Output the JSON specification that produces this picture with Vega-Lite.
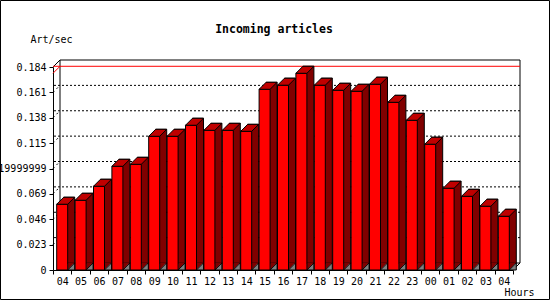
{
  "$schema": "https://vega.github.io/schema/vega-lite/v6.json",
  "width": 460,
  "height": 203,
  "autosize": {"type": "none"},
  "padding": {"left": 53, "top": 67, "right": 37, "bottom": 30},
  "background": "white",
  "config": {"view": {"stroke": null}, "font": "DejaVu Sans Mono"},
  "title": {"text": "Incoming articles", "font": "DejaVu Sans Mono", "fontSize": 11.5, "fontWeight": "bold", "color": "black", "frame": "group", "anchor": "middle", "dx": -9, "dy": 39},
  "resolve": {"axis": {"x": "independent", "y": "independent"}},
  "datasets": {
    "bars": [
      {"h": "04", "v": 0.0596}, {"h": "05", "v": 0.0632}, {"h": "06", "v": 0.0759}, {"h": "07", "v": 0.0940},
      {"h": "08", "v": 0.0958}, {"h": "09", "v": 0.1212}, {"h": "10", "v": 0.1212}, {"h": "11", "v": 0.1312},
      {"h": "12", "v": 0.1266}, {"h": "13", "v": 0.1266}, {"h": "14", "v": 0.1257}, {"h": "15", "v": 0.1638},
      {"h": "16", "v": 0.1675}, {"h": "17", "v": 0.1783}, {"h": "18", "v": 0.1675}, {"h": "19", "v": 0.1629},
      {"h": "20", "v": 0.1620}, {"h": "21", "v": 0.1684}, {"h": "22", "v": 0.1520}, {"h": "23", "v": 0.1357},
      {"h": "00", "v": 0.1140}, {"h": "01", "v": 0.0741}, {"h": "02", "v": 0.0668}, {"h": "03", "v": 0.0578},
      {"h": "04b", "v": 0.0487}
    ],
    "grid": [{"g": 0.023}, {"g": 0.046}, {"g": 0.069}, {"g": 0.092}, {"g": 0.115}, {"g": 0.138}, {"g": 0.161}]
  },
  "layer": [
    {
      "data": {"values": [{}]},
      "mark": {"type": "rect", "fill": null, "stroke": "black", "strokeWidth": 1, "xOffset": -52.5, "x2Offset": 36.5, "yOffset": -66.5, "y2Offset": 29.5},
      "encoding": {"x": {"value": 0}, "x2": {"value": "width"}, "y": {"value": 0}, "y2": {"value": "height"}}
    },
    {
      "data": {"values": [{}]},
      "mark": {"type": "rect", "fill": "white", "stroke": "black", "strokeWidth": 1, "xOffset": 7, "x2Offset": 7, "yOffset": -7, "y2Offset": -7},
      "encoding": {"x": {"value": 0}, "x2": {"value": "width"}, "y": {"datum": 0, "type": "quantitative", "axis": null}, "y2": {"datum": 0.184}}
    },
    {
      "data": {"name": "grid"},
      "mark": {"type": "rule", "color": "black", "strokeWidth": 1, "strokeDash": [2, 2], "xOffset": 7, "x2Offset": 7, "yOffset": -7},
      "encoding": {"y": {"field": "g", "type": "quantitative", "axis": null}}
    },
    {
      "data": {"name": "grid"},
      "mark": {"type": "point", "shape": "M 0 0 L 7 -7", "size": 4, "filled": false, "stroke": "black", "strokeWidth": 1, "strokeDash": [2, 3], "opacity": 1, "xOffset": -9.2},
      "encoding": {"x": {"datum": "04", "axis": null}, "y": {"field": "g", "type": "quantitative", "axis": null}}
    },
    {
      "data": {"values": [{}]},
      "mark": {"type": "point", "shape": "M 0 0 L 7 -7", "size": 4, "filled": false, "stroke": "black", "strokeWidth": 1, "opacity": 1, "xOffset": -9.2},
      "encoding": {"x": {"datum": "04", "axis": null}, "y": {"datum": 0.184, "type": "quantitative", "axis": null}}
    },
    {
      "data": {"values": [{}]},
      "mark": {"type": "point", "shape": "M 0 0 L 7 -7", "size": 4, "filled": false, "stroke": "black", "strokeWidth": 1, "opacity": 1, "xOffset": 9.2},
      "encoding": {"x": {"datum": "04b", "axis": null}, "y": {"datum": 0, "type": "quantitative", "axis": null}}
    },
    {
      "data": {"name": "bars"},
      "mark": {"type": "rule", "color": "#ff0000", "strokeWidth": 1, "xOffset": 7, "x2Offset": 7, "yOffset": -7},
      "encoding": {"y": {"aggregate": "max", "field": "v", "type": "quantitative", "axis": null}}
    },
    {
      "data": {"name": "bars"},
      "mark": {"type": "point", "shape": "M 0 0 L 7 -7", "size": 4, "filled": false, "stroke": "#ff0000", "strokeWidth": 1, "opacity": 1, "xOffset": -9.2},
      "encoding": {"x": {"datum": "04", "axis": null}, "y": {"aggregate": "max", "field": "v", "type": "quantitative", "axis": null}}
    },
    {
      "data": {"name": "bars"},
      "mark": {"type": "bar", "width": 11, "fill": "#800000", "stroke": "black", "strokeWidth": 1, "xOffset": 7, "yOffset": -7, "y2Offset": -7},
      "encoding": {
        "x": {"field": "h", "type": "nominal", "sort": null, "axis": null},
        "y": {"field": "v", "type": "quantitative", "axis": null}
      }
    },
    {
      "data": {"name": "bars"},
      "mark": {"type": "point", "shape": "M 5.5 0 L 5.5 -7.5 L 12.5 -7.5 Z", "size": 4, "filled": true, "fill": "#800000", "opacity": 1, "strokeWidth": 0},
      "encoding": {
        "x": {"field": "h", "type": "nominal", "sort": null, "axis": null},
        "y": {"datum": 0, "type": "quantitative", "axis": null}
      }
    },
    {
      "data": {"name": "bars"},
      "mark": {"type": "point", "shape": "M 5.5 0 L 12.5 -7 L 12.5 0 Z", "size": 4, "filled": true, "fill": "#808080", "stroke": "black", "strokeWidth": 1, "opacity": 1},
      "encoding": {
        "x": {"field": "h", "type": "nominal", "sort": null, "axis": null},
        "y": {"datum": 0, "type": "quantitative", "axis": null}
      }
    },
    {
      "data": {"name": "bars"},
      "mark": {"type": "bar", "width": 11, "fill": "#ff0000", "stroke": "black", "strokeWidth": 1},
      "encoding": {
        "x": {
          "field": "h", "type": "nominal", "sort": null,
          "scale": {"domain": ["04", "05", "06", "07", "08", "09", "10", "11", "12", "13", "14", "15", "16", "17", "18", "19", "20", "21", "22", "23", "00", "01", "02", "03", "04b"], "paddingInner": 0, "paddingOuter": 0},
          "axis": {
            "title": "Hours", "titleX": 481, "titleY": 22, "titleAlign": "right", "titleBaseline": "middle", "titleAnchor": null,
            "titleFont": "DejaVu Sans Mono", "titleFontSize": 10, "titleFontWeight": "normal", "titleColor": "black",
            "labelAngle": 0, "labelExpr": "slice(datum.label, 0, 2)", "labelFont": "DejaVu Sans Mono", "labelFontSize": 10, "labelColor": "black",
            "labelPadding": 2, "tickBand": "extent", "tickSize": 4, "tickColor": "black", "domainColor": "black", "grid": false, "labelOverlap": false
          }
        },
        "y": {
          "field": "v", "type": "quantitative",
          "scale": {"domain": [0, 0.184], "nice": false, "zero": true},
          "axis": {
            "title": "Art/sec", "titleAngle": 0, "titleAlign": "left", "titleBaseline": "middle", "titleX": -23, "titleY": -28, "titleAnchor": null,
            "titleFont": "DejaVu Sans Mono", "titleFontSize": 10, "titleFontWeight": "normal", "titleColor": "black",
            "values": [0, 0.023, 0.046, 0.069, 0.092, 0.115, 0.138, 0.161, 0.184],
            "labelExpr": "abs(datum.value - 0.092) < 0.0001 ? '0.0919999999' : (datum.value == 0 ? '0' : format(datum.value, '.3f'))",
            "labelFont": "DejaVu Sans Mono", "labelFontSize": 10, "labelColor": "black", "labelPadding": 3, "labelOverlap": false, "labelFlush": false,
            "tickSize": 4, "tickColor": "black", "domainColor": "black", "grid": false
          }
        }
      }
    },
    {
      "data": {"name": "bars"},
      "mark": {"type": "point", "shape": "M -5.5 0 L 1.5 -7 L 12.5 -7 L 5.5 0 Z", "size": 4, "filled": true, "fill": "#c00000", "stroke": "black", "strokeWidth": 1, "opacity": 1},
      "encoding": {
        "x": {"field": "h", "type": "nominal", "sort": null, "axis": null},
        "y": {"field": "v", "type": "quantitative", "axis": null}
      }
    }
  ]
}
